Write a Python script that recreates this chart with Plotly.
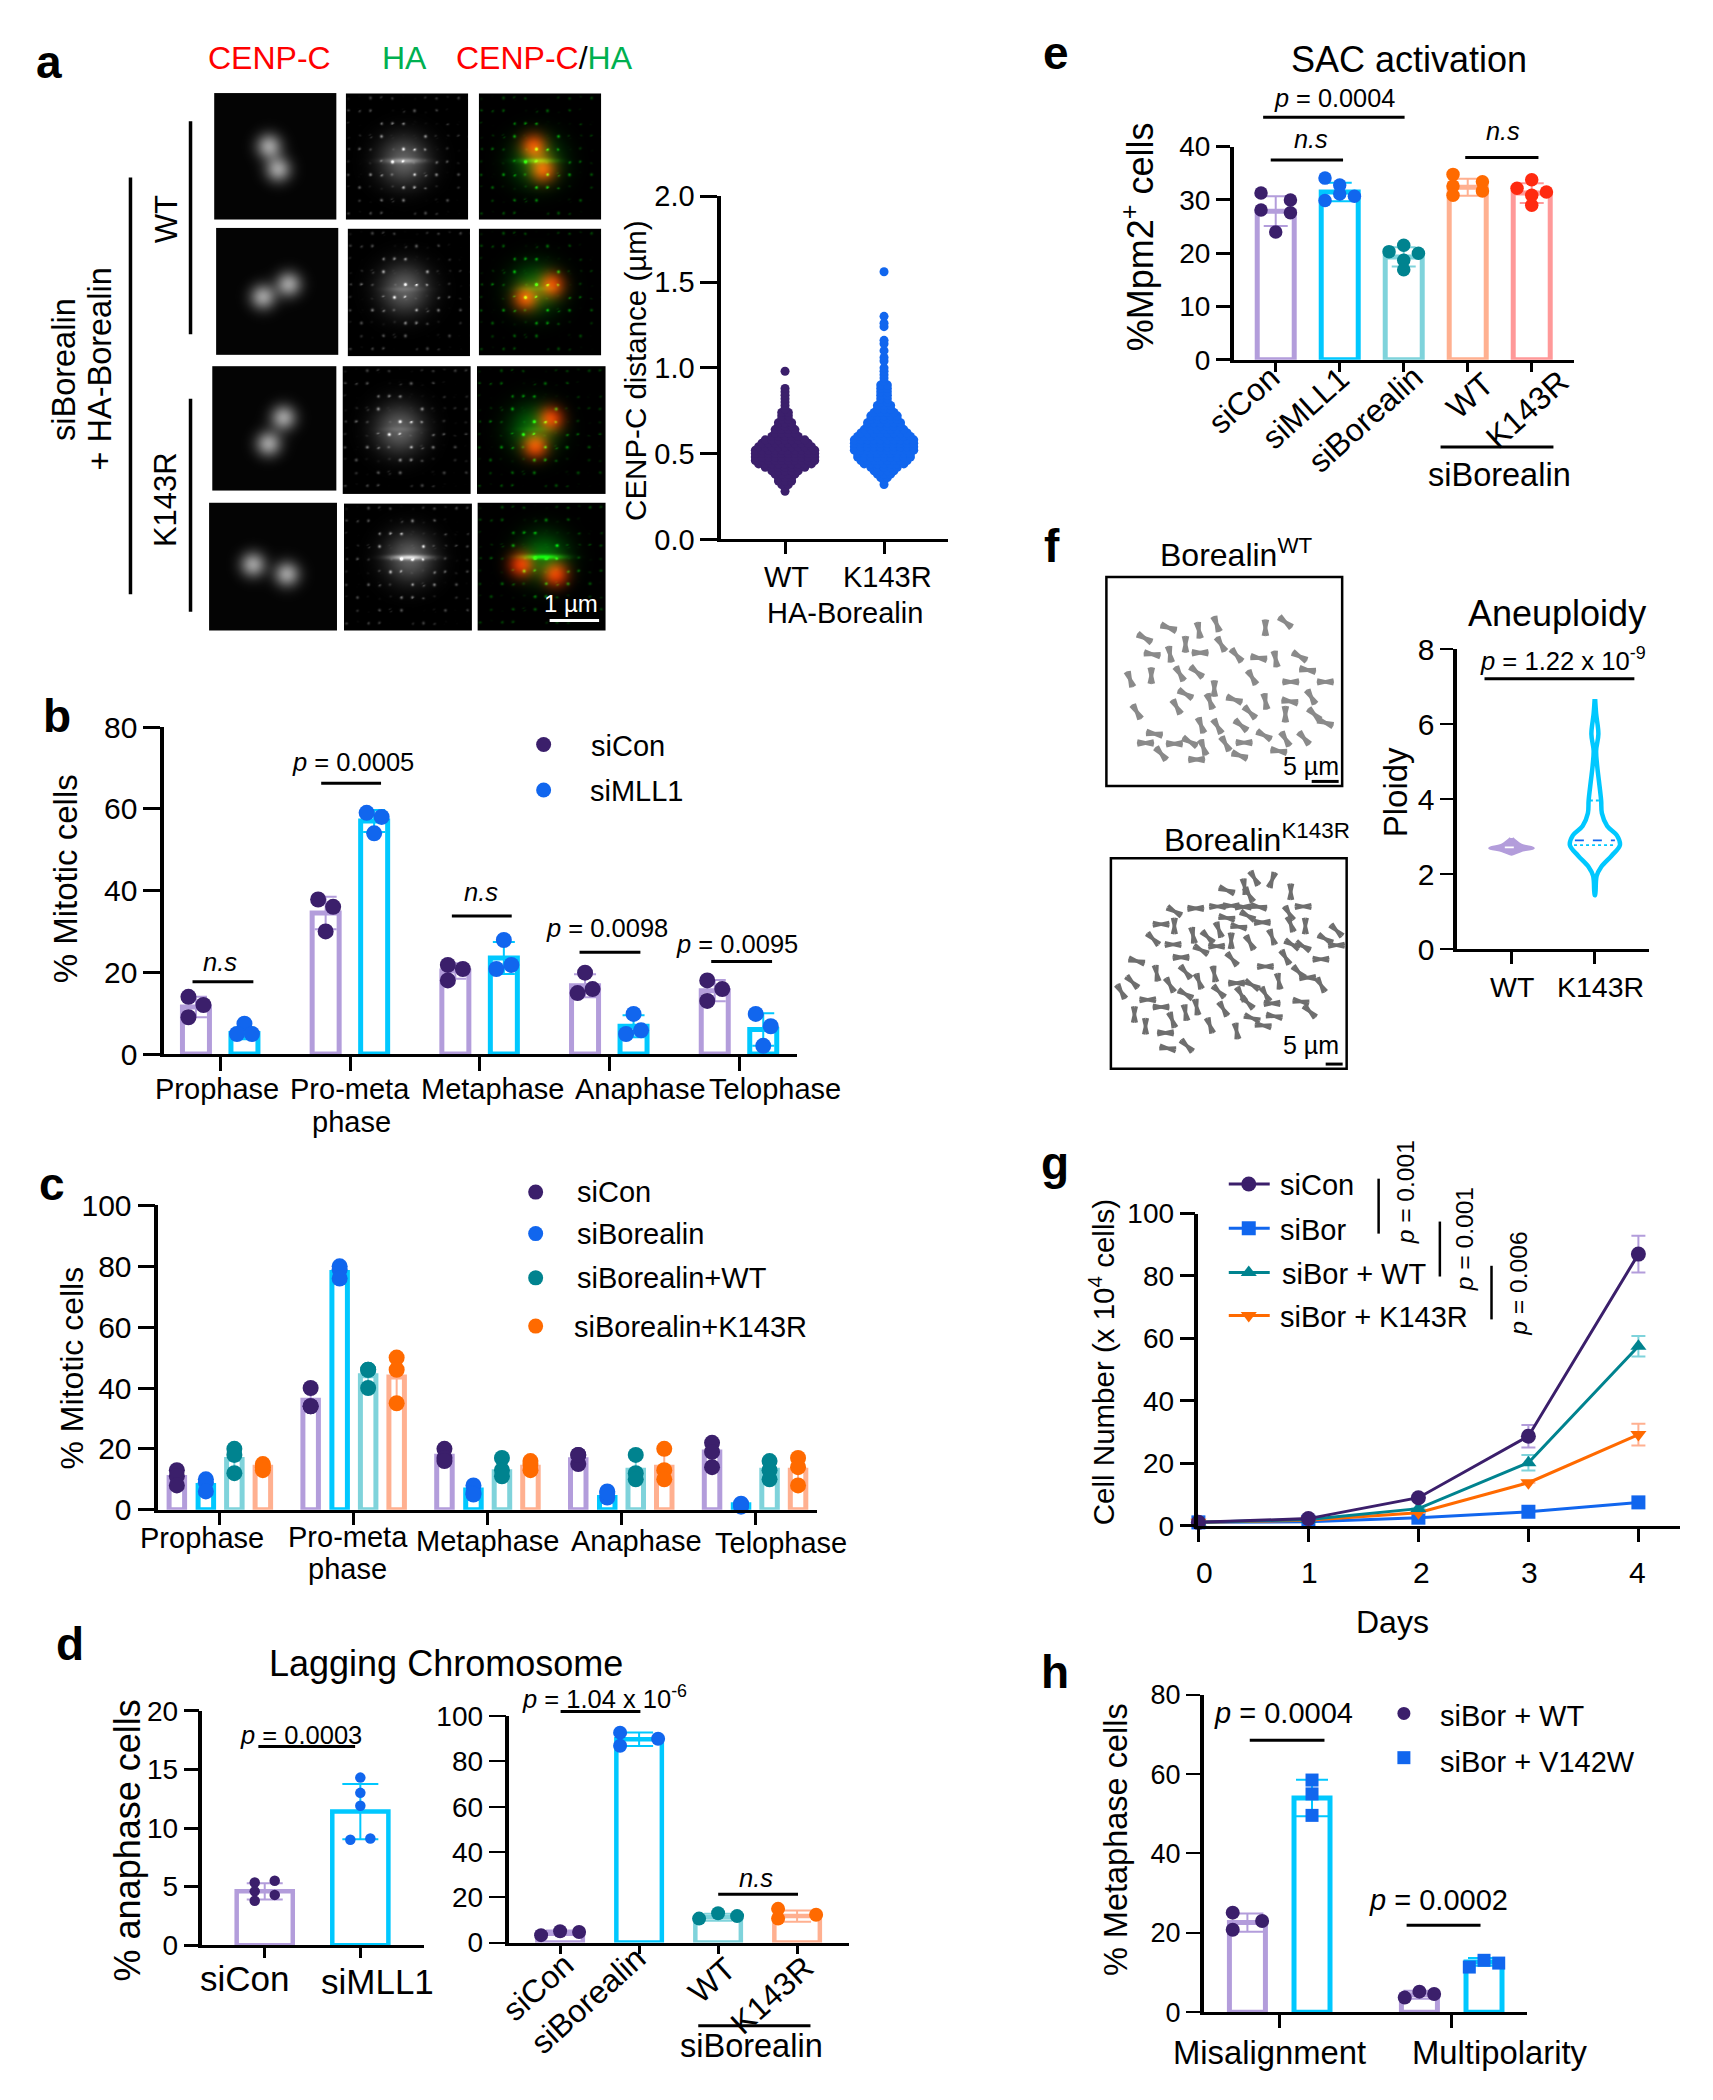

import base64, struct, zlib
import numpy as np
import plotly.graph_objects as go

W, H = 1713, 2100
FONT = "Liberation Sans"

# colours
PURPLE_D, BLUE_D, TEAL_D, ORANGE_D, RED_D = "#3B1F6B", "#1166EE", "#00838F", "#FF6A00", "#FF2A10"
PURPLE_L, CYAN_L, TEAL_L, ORANGE_L, RED_L = "#B39DDB", "#00C8FF", "#7FD3DB", "#FFB090", "#FF9999"

# ---------- panel a, swarm (CENP-C distance, binned rows)
a_wt_levels = [.28,.30,.32,.34,.36,.38,.40,.42,.44,.46,.48,.50,.52,.54,.56,.58,.60,.62,.64,.66,.68,.70,.72,.74,.76,.78,.80,.82,.84,.86,.88,.98]
a_wt_counts = [1,1,2,3,3,4,5,7,9,10,10,10,10,9,8,7,5,4,4,3,3,2,2,2,1,1,1,1,1,1,1,1]
a_k_levels = [.32,.34,.36,.38,.40,.42,.44,.46,.48,.50,.52,.54,.56,.58,.60,.62,.64,.66,.68,.70,.72,.74,.76,.78,.80,.82,.84,.86,.88,.90,.92,.94,.96,.98,1.00,1.04,1.06,1.10,1.14,1.16,1.24,1.26,1.30,1.56]
a_k_counts = [1,1,2,3,4,5,7,8,9,9,10,10,10,10,9,8,7,6,6,5,5,4,3,3,2,2,2,2,2,2,1,1,1,1,1,1,1,1,1,1,1,1,1,1]

# ---------- panel b
b_groups = ["Prophase", "Pro-meta", "Metaphase", "Anaphase", "Telophase"]
b_siCon_mean = [11.5, 34.5, 20.3, 16.7, 15.5]
b_siCon_err = [2.5, 4.0, 1.9, 2.8, 2.6]
b_siCon_pts = [[14, 12, 9], [37.8, 36, 30], [21.8, 20.8, 18], [19.9, 15.9, 14.9], [18, 15.9, 13]]
b_siMLL1_mean = [5.0, 57, 23.5, 6.8, 6.0]
b_siMLL1_err = [1.4, 2.7, 3.9, 2.7, 4.0]
b_siMLL1_pts = [[7.4, 4.9, 4.9], [59, 58, 54], [27.9, 21.8, 20.8], [9.8, 5.8, 4.9], [9.8, 6.8, 2]]

# ---------- panel c
c_siCon_mean = [10.6, 36, 17.6, 16.4, 19]
c_siCon_err = [2.5, 3, 2, 1.7, 4]
c_siCon_pts = [[13, 11, 8], [40, 34, 34], [20, 17, 16], [18, 15, 18], [22, 19, 14]]
c_siBor_mean = [8, 78, 6.5, 4, 1.6]
c_siBor_err = [2, 2, 1.5, 1, .5]
c_siBor_pts = [[10, 9, 6], [80, 79, 76], [8, 5.5, 5], [6, 4, 5.5], [2, 1.6, 1]]
c_WT_mean = [16.5, 44, 12.5, 13, 13]
c_WT_err = [4, 3, 3, 4, 3]
c_WT_pts = [[20, 18, 12], [46, 46, 40], [17, 13, 11], [18, 12, 10], [16, 13, 10]]
c_K_mean = [14, 43.6, 14, 14, 13]
c_K_err = [1, 8, 1.5, 5, 4.5]
c_K_pts = [[15, 14, 13], [50, 46, 35], [16, 15, 13], [20, 13, 10], [17, 14, 8]]

# ---------- panel d
d1_mean = [4.6, 11.4]
d1_err = [.7, 2.35]
d1_pts = [[5.35, 5.5, 4.6, 4.3, 3.8], [14.3, 13, 11.9, 9.1, 9]]
d2_mean = [4.4, 89.8, 11.2, 11.7]
d2_err = [1, 3, 1.5, 2.5]
d2_pts = [[3.3, 5, 4.7], [92.7, 86.9, 90], [10.6, 13, 11.7], [14.9, 10.6, 12.3]]

# ---------- panel e
e_mean = [27.9, 31.5, 19.3, 32.4, 31.3]
e_err = [2.8, 1.75, 1.8, 1.6, 1.85]
e_pts = [[31.3, 30, 28.1, 27.6, 24], [34.1, 32.8, 31.1, 30.7, 29.9], [21.5, 20.3, 20, 18.7, 16.9],
         [34.8, 33.4, 32.6, 31.7, 30.9], [33.8, 32.2, 31.5, 30.9, 29]]

# ---------- panel f violin outlines (ploidy level, relative half width)
f_k_levels = [6.67, 6.28, 5.74, 5.3, 4.9, 4.5, 3.97, 3.63, 3.29, 3.04, 2.78, 2.5, 2.2, 1.96, 1.45]
f_k_widths = [.01, .05, .14, .05, .09, .16, .25, .28, .49, .88, 1, .67, .25, .07, .01]
f_wt_levels = [2.97, 2.8, 2.7, 2.62, 2.53]
f_wt_widths = [.05, .44, 1.05, .44, .04]

# ---------- panel g
g_days = [0, 1, 2, 3, 4]
g_siCon = [1.1, 2.3, 9, 28.7, 87]
g_siCon_err = [0, 0, 0, 3.6, 5.9]
g_siBor = [1.1, 1.3, 2.6, 4.5, 7.5]
g_WT = [1.1, 2, 5.5, 20.2, 57.5]
g_WT_err = [0, 0, 0, 2.5, 3.3]
g_K = [1.1, 1.8, 4.2, 13.8, 29.2]
g_K_err = [0, 0, 0, 0, 3.5]

# ---------- panel h
h_WT_mean = [22.6, 4.4]
h_WT_err = [2.3, 1]
h_WT_pts = [[25.1, 23, 20.8], [3.7, 5.2, 4.6]]
h_V_mean = [54, 12.7]
h_V_err = [4.6, 1]
h_V_pts = [[58.5, 55, 49.6], [11.4, 13.1, 12.4]]

# ---------- metaphase spread decoration: (x, y, angle)
SPREAD1 = [(283,318,30),(337,290,20),(405,297,80),(445,280,70),(555,290,90),(600,275,40),(300,362,10),(340,362,80),(375,335,90),(408,358,0),(455,335,60),(490,365,50),(540,372,10),(578,375,80),(632,368,30),(650,405,10),(250,430,70),(298,420,90),(362,415,60),(400,410,40),(525,425,60),(612,437,0),(690,437,0),(375,470,30),(355,505,60),(430,490,70),(440,455,90),(485,485,20),(555,490,80),(610,490,10),(658,478,60),(600,525,90),(665,525,45),(690,548,20),(520,520,45),(265,518,60),(305,578,10),(410,555,70),(447,558,60),(500,555,40),(552,582,30),(600,592,60),(642,590,50),(285,603,0),(350,605,0),(385,600,30),(415,615,70),(465,605,60),(507,602,0),(585,625,10),(320,632,50),(400,648,0),(497,637,20)]
SPREAD2 = [(530,970,60),(570,975,110),(468,1003,20),(508,993,80),(518,1015,60),(612,1007,90),(350,1060,30),(398,1052,0),(447,1047,0),(478,1045,0),(505,1048,0),(540,1048,10),(608,1065,60),(640,1047,0),(320,1095,0),(350,1100,90),(468,1078,10),(515,1072,30),(548,1090,0),(612,1095,70),(645,1100,90),(495,1102,10),(392,1125,80),(425,1130,45),(450,1110,70),(478,1140,90),(520,1145,60),(570,1130,70),(615,1150,30),(302,1135,45),(347,1150,0),(365,1185,0),(410,1165,30),(445,1155,0),(480,1190,50),(600,1185,60),(640,1155,30),(680,1190,0),(690,1135,30),(715,1112,45),(715,1152,0),(265,1195,15),(310,1228,80),(340,1260,60),(375,1225,50),(405,1250,70),(440,1230,80),(490,1255,0),(525,1260,30),(555,1210,0),(585,1250,80),(630,1225,45),(650,1240,0),(680,1260,60),(375,1285,30),(450,1278,45),(500,1285,60),(555,1285,60),(635,1305,10),(655,1332,45),(570,1310,0),(260,1340,90),(285,1372,90),(290,1300,0),(320,1320,0),(345,1355,70),(375,1335,80),(400,1320,80),(430,1370,70),(460,1325,60),(490,1385,80),(515,1308,45),(525,1350,20),(550,1370,10),(575,1345,10),(330,1390,0),(378,1425,45),(335,1432,10),(230,1278,60),(255,1252,45)]

fig = go.Figure()
shapes, annots, images = [], [], []


def XP(x):
    return x * (.9975 if x < 1000 else .999)


def Yp(p):
    """layout y (pixels) of a height read on the 1279x1568 view of the reference"""
    return (p - 12.5) / .7344


def T(x, p, text, size=29, color="black", angle=0, xa="center", bold=False):
    annots.append(dict(x=XP(x) / W, y=1 - Yp(p) / H, xref="paper", yref="paper",
                       text=f"<b>{text}</b>" if bold else text,
                       showarrow=False, xanchor=xa, yanchor="middle", textangle=angle,
                       font=dict(family=FONT, size=size, color=color), borderpad=0, borderwidth=0))


def L(x0, p0, x1, p1, w=3, color="black"):
    shapes.append(dict(type="line", xref="paper", yref="paper", x0=XP(x0) / W, x1=XP(x1) / W, y0=1 - Yp(p0) / H,
                       y1=1 - Yp(p1) / H, line=dict(color=color, width=w)))


def axes(n, left, right, ptop, pbottom, first, spacing, ymax, dtick, xt, tsize=29, ticklen=15, xlen=12, yfmt=None,
         tickw=3):
    left, right, first = XP(left), XP(right), XP(first)
    top, bottom = Yp(ptop), Yp(pbottom)
    fig.update_layout(**{
        f"xaxis{n}": dict(domain=[left / W, right / W], range=[(left - first) / spacing, (right - first) / spacing],
                          anchor=f"y{n}", tickmode="array", tickvals=xt, ticks="outside", ticklen=xlen, tickwidth=3,
                          tickcolor="black", showticklabels=False, showline=True, linewidth=3, linecolor="black",
                          showgrid=False, zeroline=False),
        f"yaxis{n}": dict(domain=[1 - bottom / H, 1 - top / H], range=[0, ymax], anchor=f"x{n}", dtick=dtick, tick0=0,
                          ticks="outside", ticklen=ticklen, tickwidth=tickw, tickcolor="black", showline=True,
                          linewidth=3.5, linecolor="black", showgrid=False, zeroline=False, tickformat=yfmt,
                          tickfont=dict(family=FONT, size=tsize, color="black")),
    })


def bars(n, xs, means, errs, color, width, lw=4.5, cap=11):
    fig.add_trace(go.Bar(x=xs, y=means, width=width, xaxis=f"x{n}", yaxis=f"y{n}", showlegend=False,
                         marker=dict(color="white", line=dict(color=color, width=lw)),
                         error_y=dict(type="data", array=errs, visible=True, color=color, thickness=2, width=cap)))


def dots(n, xs, ys, color, size=14, symbol="circle"):
    fig.add_trace(go.Scatter(x=xs, y=ys, mode="markers", xaxis=f"x{n}", yaxis=f"y{n}", showlegend=False,
                             cliponaxis=False, marker=dict(color=color, size=size, symbol=symbol, line=dict(width=0))))


def grouped(n, means, errs, pts, offset_px, jit_px, spacing, color, dot_color, width_px, size=14, symbol="circle",
            lw=4.5, cap=11, ticks=None):
    ticks = list(range(len(means))) if ticks is None else ticks
    xs = [t + offset_px / spacing for t in ticks]
    bars(n, xs, means, errs, color, (width_px - lw) / spacing, lw, cap)
    px, py = [], []
    for i, (x, row) in enumerate(zip(xs, pts)):
        for j, v in enumerate(row):
            px.append(x + jit_px[i][j] / spacing)
            py.append(v)
    dots(n, px, py, dot_color, size, symbol)


def png_uri(rgb):
    h, w, _ = rgb.shape
    raw = b"".join(b"\x00" + rgb[r].tobytes() for r in range(h))

    def chunk(tag, data):
        return struct.pack(">I", len(data)) + tag + data + struct.pack(">I", zlib.crc32(tag + data) & 0xffffffff)

    png = b"\x89PNG\r\n\x1a\n" + chunk(b"IHDR", struct.pack(">IIBBBBB", w, h, 8, 2, 0, 0, 0)) + \
        chunk(b"IDAT", zlib.compress(raw, 9)) + chunk(b"IEND", b"")
    return "data:image/png;base64," + base64.b64encode(png).decode()


def place(rgb, x0, y0, x1, y1):
    images.append(dict(source=png_uri(rgb), xref="paper", yref="paper", x=x0 / W, y=1 - y0 / H, sizex=(x1 - x0) / W,
                       sizey=(y1 - y0) / H, xanchor="left", yanchor="top", sizing="stretch", layer="below"))


# ================= panel a micrographs
a_boxes = [
    [(335, 526, 225, 525), (541, 732, 226, 525), (749, 940, 226, 525)],
    [(338, 529, 545, 846), (544, 735, 547, 849), (749, 940, 547, 847)],
    [(332, 526, 873, 1168), (536, 736, 873, 1176), (746, 947, 873, 1176)],
    [(327, 527, 1197, 1500), (538, 738, 1199, 1500), (747, 947, 1197, 1500)],
]
a_red = [[(.445, .417), (.52, .60)], [(.38, .54), (.59, .44)], [(.57, .41), (.45, .62)], [(.34, .48), (.605, .555)]]
a_green = [(.47, .53), (.46, .47), (.44, .49), (.51, .42)]
a_band = [.7, 0.2, 0.15, 1.3]


def grids(w, h):
    return np.meshgrid(np.arange(w), np.arange(h))


def blobs(w, h, red, s=9.0):
    X, Y = grids(w, h)
    out = np.zeros((h, w))
    for fx, fy in red:
        out += np.exp(-((X - fx * w) ** 2 + (Y - fy * h) ** 2) / (2 * s ** 2))
    return np.clip(out, 0, 1.1)


def ha_signal(w, h, c, band):
    X, Y = grids(w, h)
    cx, cy = c[0] * w, c[1] * h
    r2 = (X - cx) ** 2 + ((Y - cy)) ** 2
    core = .38 * np.exp(-r2 / (2 * 17 ** 2))
    lattice = np.exp(-(((X + 3) % 11 - 5) ** 2 + ((Y + 2) % 13 - 6) ** 2) / 2.5)
    pattern = (np.sin(X * .137 + Y * .291) * np.sin(X * .071 - Y * .163) * np.sin((X + 2 * Y) * .043)) ** 2
    speck = lattice * np.clip(pattern * 6, 0, 1) * (.22 + .55 * np.exp(-r2 / (2 * 28 ** 2)))
    streak = band * .4 * np.exp(-((Y - cy) ** 2) / 6) * np.exp(-((X - cx) ** 2) / (2 * 14 ** 2))
    return np.clip(core + speck + streak, 0, 1)


def pz(z):
    return 70 + (z - 225) * .3145


ZX = 1.56
for r, row in enumerate(a_boxes):
    for c, (zx0, zx1, zy0, zy1) in enumerate(row):
        x0, x1, y0, y1 = XP(zx0 / ZX), XP(zx1 / ZX), Yp(pz(zy0)), Yp(pz(zy1))
        w, h = int(round(x1 - x0)), int(round(y1 - y0))
        red = blobs(w, h, a_red[r])
        ha = ha_signal(w, h, a_green[r], a_band[r])
        img = np.zeros((h, w, 3))
        if c == 0:
            img[..., :] = (red * 150 + 4)[..., None]
        elif c == 1:
            img[..., :] = (ha * 255)[..., None]
        else:
            img[..., 0] = red * 225
            img[..., 1] = np.clip(ha * 280 + red * 25, 0, 255)
            img[..., 2] = ha * 20
        place(np.clip(img, 0, 255).astype(np.uint8), x0, y0, x1, y1)

T(49, 47, "a", 46, bold=True)
T(270, 44, "CENP-C", 32, "#FF0000")
T(406, 44, "HA", 32, "#00B050")
T(546, 44, '<span style="color:#FF0000">CENP-C</span><span style="color:#000000">/</span><span style="color:#00B050">HA</span>', 32)
L(130.8, 133, 130.8, 444, 3.5)
L(191, 91, 191, 250, 3.5)
L(191, 298, 191, 457, 3.5)
T(166.7, 164, "WT", 31, angle=-90)
T(166.7, 373.5, "K143R", 31, angle=-90)
T(64, 276, "siBorealin", 32.5, angle=-90)
T(100.6, 276, "+ HA-Borealin", 32.5, angle=-90)
T(572.4, 451, "1 µm", 24, "white")
L(551, 463.5, 600.6, 463.5, 3, "white")

# swarm
axes(2, 723, 950.6, 147, 403, 787, 99, 2.0, .5, [0, 1], yfmt=".1f", ticklen=17, xlen=12)
for i, (lv, ct, col) in enumerate([(a_wt_levels, a_wt_counts, PURPLE_D), (a_k_levels, a_k_counts, BLUE_D)]):
    sx, sy = [], []
    for v, n_ in zip(lv, ct):
        for j in range(n_):
            sx.append(i + (j - (n_ - 1) / 2) * 6.6 / 99)
            sy.append(v)
    dots(2, sx, sy, col, 9)
T(788.5, 431, "WT", 29)
T(890, 431, "K143R", 29)
T(847, 458, "HA-Borealin", 29)
T(637, 277, "CENP-C distance (µm)", 29.5, angle=-90)

# ================= panel b
axes(3, 164.5, 799, 543, 787, 221, 129.7, 80, 20, [0, 1, 2, 3, 4], tsize=30, ticklen=17, xlen=14)
grouped(3, b_siCon_mean, b_siCon_err, b_siCon_pts, -24.5,
        [[-7.5, 7.5, -7.5], [-7.5, 7.5, 0], [-7.5, 7.5, -7.5], [0, 7.5, -7.5], [-7.5, 7.5, -7.5]], 129.7, PURPLE_L,
        PURPLE_D, 32, 16, lw=5)
grouped(3, b_siMLL1_mean, b_siMLL1_err, b_siMLL1_pts, 24,
        [[0, 7.5, -7.5], [-7.5, 7.5, 0], [0, 7.5, -7.5], [0, 7.5, -7.5], [-7.5, 7.5, 0]], 129.7, CYAN_L, BLUE_D, 32,
        16, lw=5)
T(57, 535, "b", 46, bold=True)
for x_, t_ in zip([217.5, 351, 494, 642, 777], b_groups):
    T(x_, 813, t_, 29)
T(352, 838, "phase", 29)
T(66, 656, "% Mitotic cells", 33, angle=-90)
fig.add_trace(go.Scatter(x=[XP(545)] * 2, y=[Yp(556), Yp(590)], mode="markers", xaxis="x20", yaxis="y20",
                         showlegend=False, marker=dict(size=15, color=[PURPLE_D, BLUE_D])))
T(592.6, 557, "siCon", 29, xa="left")
T(591, 591, "siMLL1", 29, xa="left")
T(354, 569, "<i>p</i> = 0.0005", 25.5)
L(322, 585, 382, 585)
T(221, 718, "<i>n.s</i>", 25.5)
L(193, 733, 254, 733)
T(482, 666, "<i>n.s</i>", 25.5)
L(453, 684, 513, 684)
T(609, 693, "<i>p</i> = 0.0098", 25.5)
L(581, 711, 642, 711)
T(739, 705, "<i>p</i> = 0.0095", 25.5)
L(713, 718, 774, 718)

# ================= panel c
zero3 = [[0, 0, 0]] * 5
axes(4, 158.7, 819, 900, 1127, 220.4, 133.8, 100, 20, [0, 1, 2, 3, 4], tsize=30, ticklen=17, xlen=12)
for off, m, e, p, cl, cd in [(-43, c_siCon_mean, c_siCon_err, c_siCon_pts, PURPLE_L, PURPLE_D),
                             (-14, c_siBor_mean, c_siBor_err, c_siBor_pts, CYAN_L, BLUE_D),
                             (14.5, c_WT_mean, c_WT_err, c_WT_pts, TEAL_L, TEAL_D),
                             (43, c_K_mean, c_K_err, c_K_pts, ORANGE_L, ORANGE_D)]:
    grouped(4, m, e, p, off, zero3, 133.8, cl, cd, 20.5, 16, lw=5, cap=6)
T(52, 884, "c", 46, bold=True)
for x_, p_, t_ in zip([203, 349, 489, 638, 783], [1148, 1147, 1150, 1150, 1152], b_groups):
    T(x_, p_, t_, 29)
T(348, 1171, "phase", 29)
T(72, 1021, "% Mitotic cells", 32, angle=-90)
fig.add_trace(go.Scatter(x=[XP(537)] * 4, y=[Yp(890), Yp(921), Yp(954), Yp(990)], mode="markers", xaxis="x20",
                         yaxis="y20", showlegend=False,
                         marker=dict(size=15, color=[PURPLE_D, BLUE_D, TEAL_D, ORANGE_D])))
T(578, 890, "siCon", 29, xa="left")
T(578, 921, "siBorealin", 29, xa="left")
T(578, 954, "siBorealin+WT", 29, xa="left")
T(575, 991, "siBorealin+K143R", 29, xa="left")

# ================= panel d
T(70, 1227, "d", 46, bold=True)
T(447, 1242, "Lagging Chromosome", 36)
axes(5, 203, 425, 1277, 1452, 265.4, 95.6, 20, 5, [0, 1], tsize=28, ticklen=15, xlen=10)
grouped(5, d1_mean[:1], d1_err[:1], d1_pts[:1], 0, [[-10, 10, -10, 10, -10]], 95.6, PURPLE_L, PURPLE_D, 60.6, 10.5,
        cap=18)
grouped(5, d1_mean[1:], d1_err[1:], d1_pts[1:], 0, [[0, 0, 0, 10, -10]], 95.6, CYAN_L, BLUE_D, 60.6, 10.5, cap=18,
        ticks=[1])
T(128, 1374, "% anaphase cells", 36, angle=-90)
T(245, 1477, "siCon", 35)
T(378.5, 1479, "siMLL1", 35)
T(302, 1295, "<i>p</i> = 0.0003", 25.5)
L(259, 1303.7, 356, 1303.7)

axes(6, 510.7, 851, 1281, 1450, 561.5, 79, 100, 20, [0, 1, 2, 3], tsize=28, ticklen=17, xlen=8, tickw=2)
for i, (cl, cd, jit) in enumerate([(PURPLE_L, PURPLE_D, [-19, 0, 19]), (CYAN_L, BLUE_D, [-19, -19, 19]),
                                   (TEAL_L, TEAL_D, [-19, 0, 19]), (ORANGE_L, ORANGE_D, [-19, -19, 19])]):
    grouped(6, d2_mean[i:i + 1], d2_err[i:i + 1], d2_pts[i:i + 1], 0, [jit], 79, cl, cd, 50, 14, cap=14, ticks=[i])
T(539.5, 1483, "siCon", 32, angle=-42)
T(590, 1493, "siBorealin", 32, angle=-42)
T(714, 1478, "WT", 32, angle=-42)
T(774, 1489, "K143R", 32, angle=-42)
L(700, 1512, 812.5, 1512)
T(753, 1527, "siBorealin", 32.5)
T(606, 1267, "<i>p</i> = 1.04 x 10<sup>-6</sup>", 25.5)
L(562, 1277.5, 642, 1277.5)
T(758, 1402, "<i>n.s</i>", 25.5)
L(720, 1414, 800, 1414)

# ================= panel e
T(1057, 40, "e", 46, bold=True)
T(1410, 45, "SAC activation", 36)
axes(7, 1235, 1575.5, 110, 269, 1277, 64, 40, 10, [0, 1, 2, 3, 4], tsize=28, ticklen=14, xlen=9)
J1, J2, J3, J4, J5 = [-14.7, 14.7, -14.7, 14.7, 0], [-14.7, 0, 0, 14.7, -14.7], [0, -14.7, 14.7, 0, 0], \
    [-14.7, 14.7, -14.7, 14.7, -14.7], [0, -14.7, 14.7, 0, 0]
for i, (cl, cd, jit) in enumerate([(PURPLE_L, PURPLE_D, J1), (CYAN_L, BLUE_D, J2), (TEAL_L, TEAL_D, J3),
                                   (ORANGE_L, ORANGE_D, J4), (RED_L, RED_D, J5)]):
    grouped(7, e_mean[i:i + 1], e_err[i:i + 1], e_pts[i:i + 1], 0, [jit], 64, cl, cd, 42, 13.5, lw=5, cap=12, ticks=[i])
T(1140, 177, "%Mpm2<sup>+</sup> cells", 36, angle=-90)
T(1336, 74, "<i>p</i> = 0.0004", 25.3)
L(1264.4, 88, 1406, 88)
T(1312.4, 104, "<i>n.s</i>", 25.3)
L(1272, 120, 1344.4, 120)
T(1504.4, 98, "<i>n.s</i>", 25.3)
L(1466.7, 118, 1540, 118)
for x_, p_, t_ in [(1245, 299, "siCon"), (1307, 305, "siMLL1"), (1367, 313, "siBorealin"), (1471, 296, "WT"),
                   (1529, 305.6, "K143R")]:
    T(x_, p_, t_, 32, angle=-42)
L(1442, 334, 1555, 334)
T(1501, 355, "siBorealin", 32.5)

# ================= panel f
T(1053, 408, "f", 46, bold=True)
T(1238, 413, "Borealin<sup>WT</sup>", 32)
T(1258, 626, "Borealin<sup>K143R</sup>", 32)
for (a, b, c, d) in [(1107.5, 431, 1343.5, 587), (1112, 641, 1348, 798)]:
    shapes.append(dict(type="rect", xref="paper", yref="paper", x0=XP(a) / W, x1=XP(c) / W, y0=1 - Yp(b) / H,
                       y1=1 - Yp(d) / H, line=dict(color="black", width=2.5)))
for spread, shade, lw_ in [(SPREAD1, "#8A8A8A", 3.8), (SPREAD2, "#6E6E6E", 3.4)]:
    sx, sy = [], []
    for zx, zy, ang in spread:
        cx, cy = XP(1020 + zx / 2.25), Yp(431 + (zy - 152) * .2748)
        for da, ln in [(13, 8.5), (-13, 8.5)]:
            t = np.radians(ang + da)
            sx += [cx - ln * np.cos(t), cx + ln * np.cos(t), None]
            sy += [cy - ln * np.sin(t), cy + ln * np.sin(t), None]
    fig.add_trace(go.Scatter(x=sx, y=sy, mode="lines", xaxis="x20", yaxis="y20", showlegend=False,
                             line=dict(color=shade, width=lw_)))
T(1340, 572, "5 µm", 25, xa="right")
L(1313, 583.6, 1340, 583.6, 3)
T(1340, 780.5, "5 µm", 25, xa="right")
L(1327, 794.5, 1344, 794.5, 3)
axes(8, 1458.7, 1651, 485, 709, 1513, 83.4, 8, 2, [0, 1], tsize=30, ticklen=13, xlen=12, tickw=2)
VW = .3
fig.add_trace(go.Scatter(
    x=[0 - v * VW * .85 for v in f_wt_widths] + [0 + v * VW * .85 for v in f_wt_widths[::-1]],
    y=f_wt_levels + f_wt_levels[::-1], mode="lines", fill="toself", fillcolor=PURPLE_L, xaxis="x8", yaxis="y8",
    showlegend=False, line=dict(color=PURPLE_L, width=2, shape="spline")))
fig.add_trace(go.Scatter(
    x=[1 - v * VW for v in f_k_widths] + [1 + v * VW for v in f_k_widths[::-1]],
    y=f_k_levels + f_k_levels[::-1], mode="lines", fill="toself", fillcolor="white", xaxis="x8", yaxis="y8",
    showlegend=False, line=dict(color=CYAN_L, width=4.5, shape="spline")))
for cx_, hw, v, col, dsh in [(0, .08, 2.72, "white", "dash"), (1, .24, 2.91, BLUE_D, "dash"),
                             (1, .25, 2.78, CYAN_L, "dot"), (1, .06, 3.97, CYAN_L, "dot")]:
    fig.add_trace(go.Scatter(x=[cx_ - hw, cx_ + hw], y=[v, v], mode="lines", xaxis="x8", yaxis="y8", showlegend=False,
                             line=dict(color=col, width=1.8, dash=dsh)))
T(1559, 458, "Aneuploidy", 36)
T(1564.4, 492, "<i>p</i> = 1.22 x 10<sup>-9</sup>", 25.6)
L(1486, 507, 1636, 507)
T(1397, 592, "Ploidy", 33, angle=-90)
T(1514, 737, "WT", 28.5)
T(1602, 737, "K143R", 28.5)

# ================= panel g
T(1056, 868, "g", 46, bold=True)
axes(9, 1199.6, 1682, 906, 1139, 1199.6, 110, 100, 20, g_days, tsize=28, ticklen=15, xlen=13)
for ys, err, col, ecol, sym, sz in [(g_siBor, None, BLUE_D, BLUE_D, "square", 14),
                                    (g_K, g_K_err, ORANGE_D, ORANGE_L, "triangle-down", 14),
                                    (g_WT, g_WT_err, TEAL_D, TEAL_L, "triangle-up", 14),
                                    (g_siCon, g_siCon_err, PURPLE_D, PURPLE_L, "circle", 15)]:
    ey = dict(type="data", array=err, visible=True, color=ecol, thickness=2, width=7) if err else None
    fig.add_trace(go.Scatter(x=g_days, y=ys, mode="lines+markers", xaxis="x9", yaxis="y9", showlegend=False,
                             cliponaxis=False, error_y=ey, line=dict(color=col, width=3),
                             marker=dict(color=col, size=sz, symbol=sym)))
for x_, t_ in zip([1205.8, 1310.7, 1423, 1531, 1638.7], g_days):
    T(x_, 1174, str(t_), 30)
T(1394, 1211, "Days", 32)
T(1102, 1017, "Cell Number (x 10<sup>4</sup> cells)", 29.5, angle=-90)
for lp, col, sym, sz in [(884, PURPLE_D, "circle", 15), (917, BLUE_D, "square", 14),
                         (950, TEAL_D, "triangle-up", 14), (982, ORANGE_D, "triangle-down", 14)]:
    L(1230, lp, 1271, lp, 3, col)
    fig.add_trace(go.Scatter(x=[XP(1250)], y=[Yp(lp)], mode="markers", xaxis="x20", yaxis="y20", showlegend=False,
                             marker=dict(size=sz, color=col, symbol=sym)))
T(1281, 885, "siCon", 29, xa="left")
T(1281, 918, "siBor", 29, xa="left")
T(1283.5, 951, "siBor + WT", 29, xa="left")
T(1281, 983, "siBor + K143R", 29, xa="left")
L(1380, 880, 1380, 921, 2.5)
T(1406.7, 890, "<i>p</i> = 0.001", 24.6, angle=-90)
L(1441.3, 912, 1441.3, 953, 2.5)
T(1466.7, 925, "<i>p</i> = 0.001", 24.6, angle=-90)
L(1493, 945, 1493, 985, 2.5)
T(1520, 958, "<i>p</i> = 0.006", 24.6, angle=-90)

# ================= panel h
T(1056, 1248, "h", 46, bold=True)
axes(10, 1205, 1529, 1265, 1502, 1281, 172, 80, 20, [0, 1], tsize=27, ticklen=14, xlen=13, tickw=2)
grouped(10, h_WT_mean, h_WT_err, h_WT_pts, -32.3, [[-14.7, 14.7, -14.7], [-14.7, 0, 14.7]], 172, PURPLE_L, PURPLE_D,
        41, 14, lw=5, cap=16)
grouped(10, h_V_mean, h_V_err, h_V_pts, 32.3, [[0, 0, 0], [-14.7, 0, 14.7]], 172, CYAN_L, BLUE_D, 41, 13, lw=5,
        symbol="square", cap=16)
T(1117.8, 1373, "% Metaphase cells", 32.5, angle=-90)
T(1271, 1532, "Misalignment", 32.8)
T(1502, 1532, "Multipolarity", 32.8)
T(1284.4, 1279, "<i>p</i> = 0.0004", 29)
L(1251, 1299, 1325.8, 1299)
T(1440, 1418, "<i>p</i> = 0.0002", 29)
L(1408, 1437, 1482, 1437)
fig.add_trace(go.Scatter(x=[XP(1405.3)] * 2, y=[Yp(1279), Yp(1312)], mode="markers", xaxis="x20", yaxis="y20",
                         showlegend=False, marker=dict(size=13, color=[PURPLE_D, BLUE_D], symbol=["circle", "square"])))
T(1441, 1281, "siBor + WT", 29, xa="left")
T(1441, 1315, "siBor + V142W", 29, xa="left")

# page-wide axes used only for legend keys and the metaphase-spread drawing
fig.update_layout(
    xaxis20=dict(domain=[0, 1], range=[0, W], visible=False, anchor="y20"),
    yaxis20=dict(domain=[0, 1], range=[H, 0], visible=False, anchor="x20"),
    width=W, height=H, autosize=False, margin=dict(l=0, r=0, t=0, b=0, pad=0), paper_bgcolor="white",
    plot_bgcolor="rgba(0,0,0,0)", barmode="overlay", showlegend=False, shapes=shapes, annotations=annots,
    images=images, font=dict(family=FONT, color="black"), hovermode=False)

fig.write_html("out.html", post_script="document.body.style.margin='0';", config={"displayModeBar": False})
